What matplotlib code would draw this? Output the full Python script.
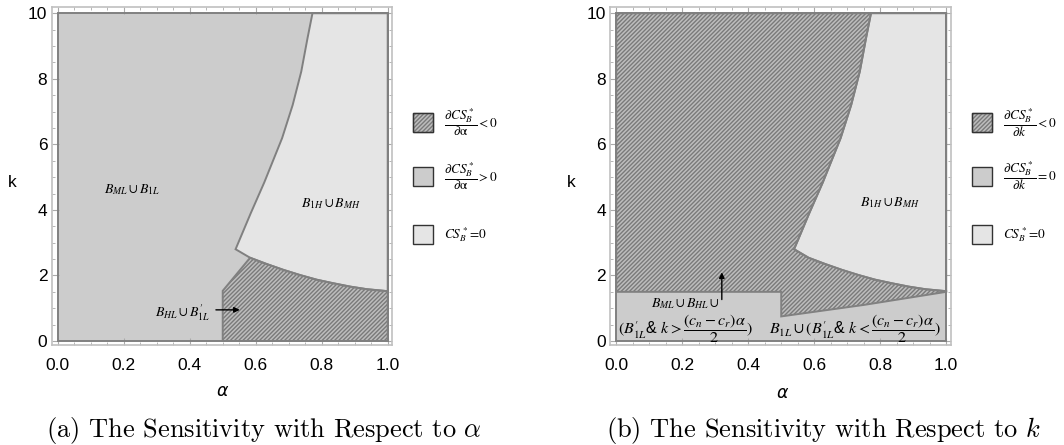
import numpy as np
import matplotlib
matplotlib.use('Agg')
import matplotlib.pyplot as plt
from matplotlib.patches import Polygon, Rectangle
import matplotlib.ticker as ticker

plt.rcParams['font.family'] = ['Liberation Sans', 'DejaVu Sans']
plt.rcParams['hatch.linewidth'] = 1.0

# boundary of the CS_B*=0 region
upper_alpha = [0.539, 0.585, 0.626, 0.680, 0.712, 0.738, 0.757, 0.772]
upper_k = [2.80, 3.90, 4.84, 6.19, 7.20, 8.22, 9.24, 10.0]
lower_alpha = [0.539, 0.583, 0.633, 0.684, 0.735, 0.785, 0.836, 0.886, 0.937, 1.0]
lower_k = [2.80, 2.54, 2.35, 2.17, 2.01, 1.87, 1.76, 1.66, 1.58, 1.52]

# panel (a): hatched block starts at alpha=0.5
a_step_alpha = 0.5
a_step_k = 1.53

# panel (b): lower edge of the hatched region
b_left_k = 1.5
b_edge_alpha = [0.5, 0.75, 1.0]
b_edge_k = [0.75, 1.10, 1.50]

x_ticks = [0.0, 0.2, 0.4, 0.6, 0.8, 1.0]
y_ticks = [0, 2, 4, 6, 8, 10]

MID = '#cccccc'
LIGHT = '#e5e5e5'
HATCH_BG = '#bdbdbd'
HATCH_FG = '#7a7a7a'
EDGE = '#808080'
HATCH = '////////'


def style_axes(ax):
    ax.set_xlim(-0.0188, 1.0145)
    ax.set_ylim(-0.107, 10.2)
    ax.set_xticks(x_ticks)
    ax.set_yticks(y_ticks)
    ax.xaxis.set_major_formatter(ticker.FormatStrFormatter('%.1f'))
    ax.xaxis.set_minor_locator(ticker.MultipleLocator(0.05))
    ax.yaxis.set_minor_locator(ticker.MultipleLocator(0.5))
    ax.tick_params(which='both', direction='in', top=True, right=True, color='#aaaaaa')
    ax.tick_params(which='major', length=5, labelsize=12.5)
    ax.tick_params(axis='x', which='major', pad=10)
    ax.tick_params(axis='y', which='major', pad=3)
    ax.tick_params(which='minor', length=2.5)
    for s in ax.spines.values():
        s.set_color('#c0c0c0')
        s.set_linewidth(1.2)


def outline(ax, xs, ys):
    ax.add_patch(Polygon(np.column_stack([xs, ys]), closed=True, fill=False,
                         edgecolor=EDGE, lw=1.4, zorder=4))


def hatched(ax, xs, ys):
    ax.add_patch(Polygon(np.column_stack([xs, ys]), closed=True, facecolor=HATCH_BG,
                         edgecolor=HATCH_FG, hatch=HATCH, lw=0, zorder=2))
    outline(ax, xs, ys)


def light_region(ax):
    xs = upper_alpha + [1.0] + lower_alpha[::-1]
    ys = upper_k + [10.0] + lower_k[::-1]
    ax.add_patch(Polygon(np.column_stack([xs, ys]), closed=True, facecolor=LIGHT,
                         lw=0, zorder=3))
    outline(ax, xs, ys)


def base(ax):
    ax.add_patch(Polygon([[0, 0], [1, 0], [1, 10], [0, 10]], closed=True,
                         facecolor=MID, lw=0, zorder=1))
    outline(ax, [0, 1, 1, 0], [0, 0, 10, 10])


fig = plt.figure(figsize=(10.64, 4.45), dpi=100)
W, H = 1064, 445
axa = fig.add_axes([51.5 / W, 100.5 / H, 341 / W, 337.8 / H])
axb = fig.add_axes([610 / W, 100.5 / H, 341 / W, 337.8 / H])

lab = dict(fontsize=10, math_fontfamily='stix', ha='center', va='center', zorder=6)
big = dict(lab, fontsize=11.5)

# ---- panel (a)
base(axa)
hx = [a_step_alpha, a_step_alpha] + lower_alpha[1:] + [1.0]
hy = [0, a_step_k] + lower_k[1:] + [0]
hatched(axa, hx, hy)
light_region(axa)
style_axes(axa)
axa.text(0.226, 4.63, r'$B_{ML}\cup B_{1L}$', **lab)
axa.text(0.828, 4.20, r'$B_{1H}\cup B_{MH}$', **lab)
axa.text(0.379, 0.85, r"$B_{HL}\cup B_{1L}^{\prime}$", **lab)
axa.annotate('', xy=(0.56, 0.95), xytext=(0.471, 0.95), zorder=7,
             arrowprops=dict(arrowstyle='-|>', color='black', lw=1, mutation_scale=8))

# ---- panel (b)
base(axb)
hx = [0, 0] + upper_alpha[::-1] + lower_alpha[1:] + b_edge_alpha[::-1] + [0.5]
hy = [b_left_k, 10] + upper_k[::-1] + lower_k[1:] + b_edge_k[::-1] + [b_left_k]
hatched(axb, hx, hy)
light_region(axb)
style_axes(axb)
axb.text(0.828, 4.23, r'$B_{1H}\cup B_{MH}$', **lab)
axb.text(0.209, 1.13, r'$B_{ML}\cup B_{HL}\cup$', **lab)
axb.text(0.209, 0.39, r"$(B_{1L}^{\prime}$& $k > \dfrac{(c_n-c_r)\alpha}{2})$", **big)
axb.text(0.722, 0.39, r"$B_{1L}\cup(B_{1L}^{\prime}$& $k < \dfrac{(c_n-c_r)\alpha}{2})$", **big)
axb.annotate('', xy=(0.32, 2.18), xytext=(0.32, 1.18), zorder=7,
             arrowprops=dict(arrowstyle='-|>', color='black', lw=1, mutation_scale=8))

# axis labels
for x, y, t in [(12, 182, 'k'), (571.7, 182, 'k')]:
    fig.text(x / W, 1 - y / H, t, fontsize=12.5, ha='center', va='center')
for x, y in [(222.7, 391.7), (782.7, 393)]:
    fig.text(x / W, 1 - y / H, r'$\alpha$', fontsize=12.5, ha='center', va='center',
             math_fontfamily='dejavusans')

# legends
legend_a = [r'$\dfrac{\partial CS_B^*}{\partial \mathrm{\alpha}} < 0$',
            r'$\dfrac{\partial CS_B^*}{\partial \mathrm{\alpha}} > 0$',
            r'$CS_B^*\!=\!0$']
legend_b = [r'$\dfrac{\partial CS_B^*}{\partial k} < 0$',
            r'$\dfrac{\partial CS_B^*}{\partial k} = 0$',
            r'$CS_B^*\!=\!0$']
fills = [(HATCH_BG, HATCH), (MID, None), (LIGHT, None)]
centers = [122.5, 176, 235]
for bx, labels in [(413, legend_a), (972, legend_b)]:
    for (fc, hp), cy, t in zip(fills, centers, labels):
        fig.add_artist(Rectangle((bx / W, 1 - (cy + 9.5) / H), 20 / W, 19 / H,
                                 transform=fig.transFigure, facecolor=fc,
                                 edgecolor='#333333' if hp is None else HATCH_FG,
                                 hatch=hp, lw=1))
        if hp is not None:
            fig.add_artist(Rectangle((bx / W, 1 - (cy + 9.5) / H), 20 / W, 19 / H,
                                     transform=fig.transFigure, fill=False,
                                     edgecolor='#333333', lw=1))
        fig.text((bx + 31) / W, 1 - cy / H, t, fontsize=9.5, math_fontfamily='stix',
                 ha='left', va='center')

# captions
cap = dict(fontsize=19, family='cmr10', math_fontfamily='cm', ha='center', va='center')
fig.text(264 / W, 1 - 430 / H, r'(a) The Sensitivity with Respect to $\alpha$', **cap)
fig.text(823 / W, 1 - 430 / H, r'(b) The Sensitivity with Respect to $k$', **cap)

fig.savefig('out.png', dpi=100)
